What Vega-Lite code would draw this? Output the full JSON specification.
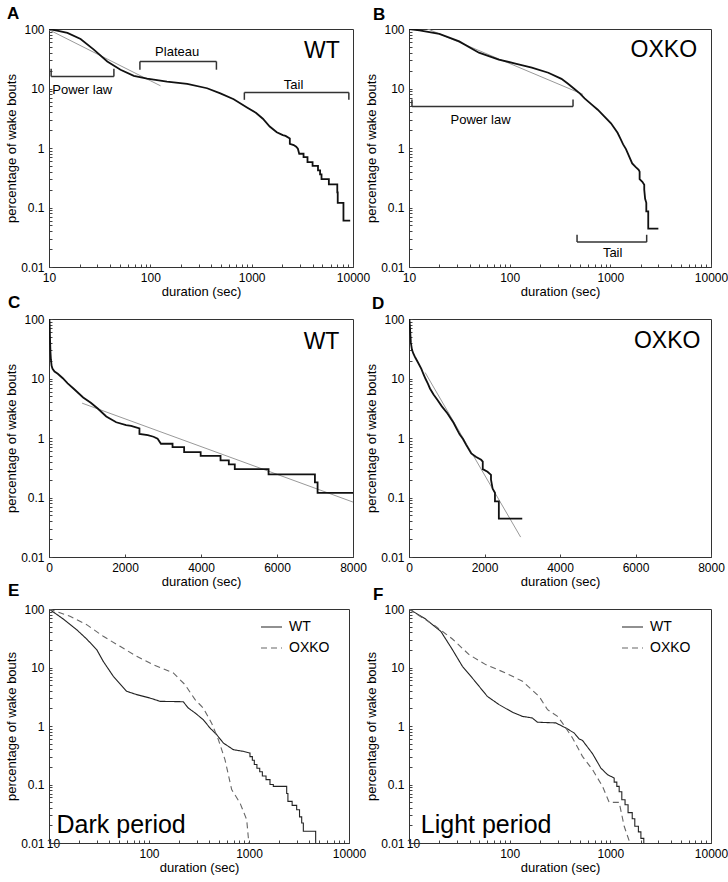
{
  "$schema": "https://vega.github.io/schema/vega-lite/v6.json",
  "background": "white",
  "padding": {"left": 5, "top": 4, "right": 1, "bottom": 5},
  "config": {
    "view": {"stroke": "#333", "strokeWidth": 1},
    "axis": {"labelFont": "Liberation Sans", "labelFontSize": 12, "labelColor": "#000", "titleFont": "Liberation Sans", "titleFontSize": 13, "titleFontWeight": "normal", "titleColor": "#000", "domainColor": "#333", "tickColor": "#444", "grid": false, "tickSize": -3, "labelPadding": 8, "titlePadding": 2, "labelFlush": false, "labelOverlap": false},
    "title": {"font": "Liberation Sans", "fontSize": 17, "fontWeight": "bold", "anchor": "start", "frame": "group", "baseline": "alphabetic", "color": "#000", "offset": 0},
    "text": {"font": "Liberation Sans", "color": "#000"},
    "legend": {"labelFont": "Liberation Sans", "labelFontSize": 14, "labelColor": "#000"}
  },
  "datasets": {
    "wt": [{"x":10,"y":100},{"x":12,"y":94},{"x":15.2,"y":86},{"x":20.5,"y":68},{"x":27.7,"y":45},{"x":37.6,"y":28.5},{"x":50.8,"y":20.7},{"x":68.7,"y":16.3},{"x":93,"y":14.6},{"x":146,"y":13.1},{"x":231,"y":12},{"x":363,"y":10.1},{"x":491,"y":8.3},{"x":665,"y":6.6},{"x":899,"y":4.8},{"x":1100,"y":3.9},{"x":1290,"y":3.1},{"x":1507,"y":2.3},{"x":1769,"y":1.84},{"x":2030,"y":1.65},{"x":2160,"y":1.6},{"x":2380,"y":1.45},{"x":2380,"y":1.17},{"x":2600,"y":1.12},{"x":2750,"y":1.05},{"x":2858,"y":0.97},{"x":2946,"y":0.8},{"x":3251,"y":0.8},{"x":3251,"y":0.7},{"x":3556,"y":0.7},{"x":3556,"y":0.58},{"x":3991,"y":0.58},{"x":3991,"y":0.5},{"x":4514,"y":0.5},{"x":4514,"y":0.42},{"x":4732,"y":0.42},{"x":4732,"y":0.36},{"x":4889,"y":0.36},{"x":4889,"y":0.3},{"x":5778,"y":0.3},{"x":5778,"y":0.244},{"x":6998,"y":0.244},{"x":6998,"y":0.18},{"x":7068,"y":0.18},{"x":7068,"y":0.12},{"x":8050,"y":0.12},{"x":8050,"y":0.06},{"x":9380,"y":0.06}],
    "oxko": [{"x":10,"y":100},{"x":12.7,"y":95},{"x":20,"y":82.5},{"x":31.5,"y":62},{"x":49.5,"y":40},{"x":78,"y":30.7},{"x":114,"y":26.3},{"x":166,"y":22.5},{"x":242,"y":18.4},{"x":327,"y":14.5},{"x":380,"y":12},{"x":440,"y":9.8},{"x":500,"y":8.2},{"x":555,"y":6.8},{"x":650,"y":5.4},{"x":750,"y":4.4},{"x":870,"y":3.4},{"x":1015,"y":2.6},{"x":1180,"y":1.8},{"x":1256,"y":1.45},{"x":1340,"y":1.15},{"x":1430,"y":0.96},{"x":1518,"y":0.76},{"x":1649,"y":0.55},{"x":1780,"y":0.48},{"x":1911,"y":0.43},{"x":1954,"y":0.4},{"x":1954,"y":0.3},{"x":2080,"y":0.27},{"x":2172,"y":0.24},{"x":2172,"y":0.2},{"x":2216,"y":0.14},{"x":2277,"y":0.12},{"x":2277,"y":0.086},{"x":2380,"y":0.086},{"x":2380,"y":0.044},{"x":3000,"y":0.044}],
    "fitA": [{"x":10,"y":97},{"x":126,"y":11.1}],
    "fitB": [{"x":10,"y":136},{"x":535,"y":7.96}],
    "fitC": [{"x":871,"y":3.85},{"x":8000,"y":0.0838}],
    "fitD": [{"x":427,"y":12.6},{"x":2957,"y":0.0216}],
    "brA": [{"x":10.5,"x2":43.7,"y":15.9,"y2":15.9},{"x":10.5,"x2":10.5,"y":15.9,"y2":21.4},{"x":43.7,"x2":43.7,"y":15.9,"y2":21.4},{"x":78.9,"x2":449,"y":28.5,"y2":28.5},{"x":78.9,"x2":78.9,"y":28.5,"y2":20.7},{"x":449,"x2":449,"y":28.5,"y2":20.7},{"x":847,"x2":9100,"y":8.57,"y2":8.57},{"x":847,"x2":847,"y":8.57,"y2":6.45},{"x":9100,"x2":9100,"y":8.57,"y2":6.45}],
    "brB": [{"x":10.7,"x2":426,"y":4.96,"y2":4.96},{"x":10.7,"x2":10.7,"y":4.96,"y2":6.56},{"x":426,"x2":426,"y":4.96,"y2":6.56},{"x":467,"x2":2296,"y":0.0262,"y2":0.0262},{"x":467,"x2":467,"y":0.0262,"y2":0.0348},{"x":2296,"x2":2296,"y":0.0262,"y2":0.0348}],
    "txtA": [{"x":21.3,"y":9.5,"label":"Power law"},{"x":184,"y":40.4,"label":"Plateau"},{"x":2594,"y":11.5,"label":"Tail"}],
    "txtB": [{"x":51.4,"y":2.96,"label":"Power law"},{"x":1054,"y":0.0174,"label":"Tail"}],
    "E": [{"genotype":"WT","x":10,"y":100},{"genotype":"WT","x":13.9,"y":67.4},{"genotype":"WT","x":18.9,"y":44.3},{"genotype":"WT","x":23.8,"y":30.7},{"genotype":"WT","x":30,"y":20.2},{"genotype":"WT","x":34.9,"y":12.7},{"genotype":"WT","x":44,"y":7.06},{"genotype":"WT","x":59.8,"y":3.92},{"genotype":"WT","x":75.3,"y":3.44},{"genotype":"WT","x":102,"y":3.01},{"genotype":"WT","x":129,"y":2.64},{"genotype":"WT","x":220,"y":2.6},{"genotype":"WT","x":247,"y":2.03},{"genotype":"WT","x":289,"y":1.67},{"genotype":"WT","x":349,"y":1.28},{"genotype":"WT","x":407,"y":0.925},{"genotype":"WT","x":475,"y":0.711},{"genotype":"WT","x":554,"y":0.512},{"genotype":"WT","x":697,"y":0.394},{"genotype":"WT","x":878,"y":0.369},{"genotype":"WT","x":1023,"y":0.345},{"genotype":"WT","x":1023,"y":0.3},{"genotype":"WT","x":1080,"y":0.3},{"genotype":"WT","x":1080,"y":0.26},{"genotype":"WT","x":1130,"y":0.26},{"genotype":"WT","x":1130,"y":0.22},{"genotype":"WT","x":1200,"y":0.22},{"genotype":"WT","x":1200,"y":0.19},{"genotype":"WT","x":1280,"y":0.19},{"genotype":"WT","x":1280,"y":0.165},{"genotype":"WT","x":1360,"y":0.165},{"genotype":"WT","x":1360,"y":0.14},{"genotype":"WT","x":1480,"y":0.14},{"genotype":"WT","x":1480,"y":0.121},{"genotype":"WT","x":1622,"y":0.121},{"genotype":"WT","x":1622,"y":0.1},{"genotype":"WT","x":1750,"y":0.1},{"genotype":"WT","x":1750,"y":0.093},{"genotype":"WT","x":2382,"y":0.093},{"genotype":"WT","x":2382,"y":0.07},{"genotype":"WT","x":2450,"y":0.07},{"genotype":"WT","x":2450,"y":0.0515},{"genotype":"WT","x":2700,"y":0.0515},{"genotype":"WT","x":2700,"y":0.044},{"genotype":"WT","x":2997,"y":0.044},{"genotype":"WT","x":2997,"y":0.037},{"genotype":"WT","x":3200,"y":0.037},{"genotype":"WT","x":3200,"y":0.028},{"genotype":"WT","x":3365,"y":0.028},{"genotype":"WT","x":3365,"y":0.022},{"genotype":"WT","x":3494,"y":0.022},{"genotype":"WT","x":3494,"y":0.0159},{"genotype":"WT","x":4642,"y":0.0159},{"genotype":"WT","x":4642,"y":0.008},
      {"genotype":"OXKO","x":10,"y":100},{"genotype":"OXKO","x":16.2,"y":75},{"genotype":"OXKO","x":23.8,"y":54},{"genotype":"OXKO","x":34.9,"y":34.1},{"genotype":"OXKO","x":51.3,"y":23},{"genotype":"OXKO","x":75.3,"y":15.5},{"genotype":"OXKO","x":110,"y":11.2},{"genotype":"OXKO","x":175,"y":8.06},{"genotype":"OXKO","x":229,"y":5.1},{"genotype":"OXKO","x":289,"y":2.82},{"genotype":"OXKO","x":349,"y":2.03},{"genotype":"OXKO","x":423,"y":1.12},{"genotype":"OXKO","x":494,"y":0.584},{"genotype":"OXKO","x":575,"y":0.266},{"genotype":"OXKO","x":671,"y":0.0817},{"genotype":"OXKO","x":813,"y":0.0483},{"genotype":"OXKO","x":948,"y":0.0251},{"genotype":"OXKO","x":1008,"y":0.008}],
    "F": [{"genotype":"WT","x":10,"y":100},{"genotype":"WT","x":14.6,"y":67.4},{"genotype":"WT","x":20.7,"y":41.5},{"genotype":"WT","x":27,"y":20.2},{"genotype":"WT","x":33.9,"y":10.5},{"genotype":"WT","x":42.6,"y":6.6},{"genotype":"WT","x":60.1,"y":3.2},{"genotype":"WT","x":78.5,"y":2.32},{"genotype":"WT","x":107,"y":1.71},{"genotype":"WT","x":134,"y":1.46},{"genotype":"WT","x":168,"y":1.37},{"genotype":"WT","x":189,"y":1.16},{"genotype":"WT","x":287,"y":1.13},{"genotype":"WT","x":361,"y":0.925},{"genotype":"WT","x":437,"y":0.76},{"genotype":"WT","x":491,"y":0.6},{"genotype":"WT","x":528,"y":0.569},{"genotype":"WT","x":665,"y":0.337},{"genotype":"WT","x":805,"y":0.191},{"genotype":"WT","x":938,"y":0.147},{"genotype":"WT","x":1092,"y":0.129},{"genotype":"WT","x":1092,"y":0.11},{"genotype":"WT","x":1160,"y":0.11},{"genotype":"WT","x":1160,"y":0.093},{"genotype":"WT","x":1224,"y":0.093},{"genotype":"WT","x":1224,"y":0.075},{"genotype":"WT","x":1300,"y":0.075},{"genotype":"WT","x":1300,"y":0.055},{"genotype":"WT","x":1400,"y":0.055},{"genotype":"WT","x":1400,"y":0.045},{"genotype":"WT","x":1500,"y":0.045},{"genotype":"WT","x":1500,"y":0.033},{"genotype":"WT","x":1650,"y":0.033},{"genotype":"WT","x":1650,"y":0.026},{"genotype":"WT","x":1750,"y":0.026},{"genotype":"WT","x":1750,"y":0.0193},{"genotype":"WT","x":1900,"y":0.0193},{"genotype":"WT","x":1900,"y":0.0155},{"genotype":"WT","x":2012,"y":0.0155},{"genotype":"WT","x":2012,"y":0.012},{"genotype":"WT","x":2150,"y":0.012},{"genotype":"WT","x":2150,"y":0.008},
      {"genotype":"OXKO","x":10,"y":100},{"genotype":"OXKO","x":18.4,"y":50.6},{"genotype":"OXKO","x":27,"y":30.7},{"genotype":"OXKO","x":39.5,"y":16.6},{"genotype":"OXKO","x":57.8,"y":11.2},{"genotype":"OXKO","x":91.4,"y":8.06},{"genotype":"OXKO","x":134,"y":5.81},{"genotype":"OXKO","x":196,"y":3.21},{"genotype":"OXKO","x":238,"y":1.9},{"genotype":"OXKO","x":299,"y":1.46},{"genotype":"OXKO","x":335,"y":1.12},{"genotype":"OXKO","x":421,"y":0.624},{"genotype":"OXKO","x":528,"y":0.303},{"genotype":"OXKO","x":665,"y":0.18},{"genotype":"OXKO","x":836,"y":0.093},{"genotype":"OXKO","x":974,"y":0.0495},{"genotype":"OXKO","x":1224,"y":0.0495},{"genotype":"OXKO","x":1373,"y":0.0193},{"genotype":"OXKO","x":1637,"y":0.008}]
  },
  "concat": [
        {
          "title": {"text": "A", "dx": -42, "dy": 4.4},
          "width": 304, "height": 238,
          "encoding": {
            "x": {"field": "x", "type": "quantitative", "scale": {"type": "log", "domain": [10, 10000]}, "axis": {"title": "duration (sec)", "format": "d", "values": [10,20,30,40,50,60,70,80,90,100,200,300,400,500,600,700,800,900,1000,2000,3000,4000,5000,6000,7000,8000,9000,10000], "labelExpr": "indexof([10,100,1000,10000], datum.value) >= 0 ? datum.label : ''"}},
            "y": {"field": "y", "type": "quantitative", "scale": {"type": "log", "domain": [0.01, 100]}, "axis": {"title": "percentage of wake bouts", "format": "~g", "values": [0.01,0.02,0.03,0.04,0.05,0.06,0.07,0.08,0.09,0.1,0.2,0.3,0.4,0.5,0.6,0.7,0.8,0.9,1,2,3,4,5,6,7,8,9,10,20,30,40,50,60,70,80,90,100], "labelExpr": "indexof([0.01,0.1,1,10,100], datum.value) >= 0 ? datum.label : ''"}}
          },
          "layer": [
            {"data": {"name": "fitA"}, "mark": {"type": "line", "color": "#999", "strokeWidth": 1, "clip": true}},
            {"data": {"name": "wt"}, "mark": {"type": "line", "color": "#111", "strokeWidth": 1.8, "clip": true}, "encoding": {"order": [{"field": "x", "sort": "ascending"}, {"field": "y", "sort": "descending"}]}},
            {"data": {"name": "brA"}, "mark": {"type": "rule", "color": "#333", "strokeWidth": 1.5}, "encoding": {"x2": {"field": "x2"}, "y2": {"field": "y2"}}},
            {"data": {"name": "txtA"}, "mark": {"type": "text", "fontSize": 13, "baseline": "middle", "align": "center"}, "encoding": {"text": {"field": "label"}}},
            {"data": {"values": [{"x": 4930, "y": 42, "label": "WT"}]}, "mark": {"type": "text", "fontSize": 23, "baseline": "middle", "align": "center"}, "encoding": {"text": {"field": "label"}}}
          ]
        },
        {
          "title": {"text": "B", "dx": -36, "dy": 5.4},
          "width": 302, "height": 238,
          "encoding": {
            "x": {"field": "x", "type": "quantitative", "scale": {"type": "log", "domain": [10, 10000]}, "axis": {"title": "duration (sec)", "format": "d", "values": [10,20,30,40,50,60,70,80,90,100,200,300,400,500,600,700,800,900,1000,2000,3000,4000,5000,6000,7000,8000,9000,10000], "labelExpr": "indexof([10,100,1000,10000], datum.value) >= 0 ? datum.label : ''"}},
            "y": {"field": "y", "type": "quantitative", "scale": {"type": "log", "domain": [0.01, 100]}, "axis": {"title": "percentage of wake bouts", "format": "~g", "values": [0.01,0.02,0.03,0.04,0.05,0.06,0.07,0.08,0.09,0.1,0.2,0.3,0.4,0.5,0.6,0.7,0.8,0.9,1,2,3,4,5,6,7,8,9,10,20,30,40,50,60,70,80,90,100], "labelExpr": "indexof([0.01,0.1,1,10,100], datum.value) >= 0 ? datum.label : ''"}}
          },
          "layer": [
            {"data": {"name": "fitB"}, "mark": {"type": "line", "color": "#999", "strokeWidth": 1, "clip": true}},
            {"data": {"name": "oxko"}, "mark": {"type": "line", "color": "#111", "strokeWidth": 1.8, "clip": true}, "encoding": {"order": [{"field": "x", "sort": "ascending"}, {"field": "y", "sort": "descending"}]}},
            {"data": {"name": "brB"}, "mark": {"type": "rule", "color": "#333", "strokeWidth": 1.5}, "encoding": {"x2": {"field": "x2"}, "y2": {"field": "y2"}}},
            {"data": {"name": "txtB"}, "mark": {"type": "text", "fontSize": 13, "baseline": "middle", "align": "center"}, "encoding": {"text": {"field": "label"}}},
            {"data": {"values": [{"x": 3400, "y": 45, "label": "OXKO"}]}, "mark": {"type": "text", "fontSize": 23, "baseline": "middle", "align": "center"}, "encoding": {"text": {"field": "label"}}}
          ]
        },
        {
          "title": {"text": "C", "dx": -41, "dy": 3.4},
          "width": 304, "height": 238,
          "encoding": {
            "x": {"field": "x", "type": "quantitative", "scale": {"domain": [0, 8000]}, "axis": {"title": "duration (sec)", "values": [0, 2000, 4000, 6000, 8000], "format": "d"}},
            "y": {"field": "y", "type": "quantitative", "scale": {"type": "log", "domain": [0.01, 100]}, "axis": {"title": "percentage of wake bouts", "format": "~g", "values": [0.01,0.02,0.03,0.04,0.05,0.06,0.07,0.08,0.09,0.1,0.2,0.3,0.4,0.5,0.6,0.7,0.8,0.9,1,2,3,4,5,6,7,8,9,10,20,30,40,50,60,70,80,90,100], "labelExpr": "indexof([0.01,0.1,1,10,100], datum.value) >= 0 ? datum.label : ''"}}
          },
          "layer": [
            {"data": {"name": "fitC"}, "mark": {"type": "line", "color": "#999", "strokeWidth": 1, "clip": true}},
            {"data": {"name": "wt"}, "mark": {"type": "line", "color": "#111", "strokeWidth": 1.8, "clip": true}, "encoding": {"order": [{"field": "x", "sort": "ascending"}, {"field": "y", "sort": "descending"}]}},
            {"data": {"values": [{"x": 7172, "y": 40.6, "label": "WT"}]}, "mark": {"type": "text", "fontSize": 23, "baseline": "middle", "align": "center"}, "encoding": {"text": {"field": "label"}}}
          ]
        },
        {
          "title": {"text": "D", "dx": -37, "dy": 4.4},
          "width": 302, "height": 238,
          "encoding": {
            "x": {"field": "x", "type": "quantitative", "scale": {"domain": [0, 8000]}, "axis": {"title": "duration (sec)", "values": [0, 2000, 4000, 6000, 8000], "format": "d"}},
            "y": {"field": "y", "type": "quantitative", "scale": {"type": "log", "domain": [0.01, 100]}, "axis": {"title": "percentage of wake bouts", "format": "~g", "values": [0.01,0.02,0.03,0.04,0.05,0.06,0.07,0.08,0.09,0.1,0.2,0.3,0.4,0.5,0.6,0.7,0.8,0.9,1,2,3,4,5,6,7,8,9,10,20,30,40,50,60,70,80,90,100], "labelExpr": "indexof([0.01,0.1,1,10,100], datum.value) >= 0 ? datum.label : ''"}}
          },
          "layer": [
            {"data": {"name": "fitD"}, "mark": {"type": "line", "color": "#999", "strokeWidth": 1, "clip": true}},
            {"data": {"name": "oxko"}, "mark": {"type": "line", "color": "#111", "strokeWidth": 1.8, "clip": true}, "encoding": {"order": [{"field": "x", "sort": "ascending"}, {"field": "y", "sort": "descending"}]}},
            {"data": {"values": [{"x": 6840, "y": 42.5, "label": "OXKO"}]}, "mark": {"type": "text", "fontSize": 23, "baseline": "middle", "align": "center"}, "encoding": {"text": {"field": "label"}}}
          ]
        },
        {
          "title": {"text": "E", "dx": -41, "dy": 1.4},
          "width": 300, "height": 234,
          "encoding": {
            "x": {"field": "x", "type": "quantitative", "scale": {"type": "log", "domain": [10, 10000]}, "axis": {"title": "duration (sec)", "format": "d", "values": [10,20,30,40,50,60,70,80,90,100,200,300,400,500,600,700,800,900,1000,2000,3000,4000,5000,6000,7000,8000,9000,10000], "labelExpr": "indexof([10,100,1000,10000], datum.value) >= 0 ? datum.label : ''", "labelOffset": {"condition": {"test": "datum.value == 10", "value": 4}, "value": 0}, "labelPadding": {"condition": {"test": "datum.value == 10", "value": -2}, "value": 8}}},
            "y": {"field": "y", "type": "quantitative", "scale": {"type": "log", "domain": [0.01, 100]}, "axis": {"title": "percentage of wake bouts", "format": "~g", "values": [0.01,0.02,0.03,0.04,0.05,0.06,0.07,0.08,0.09,0.1,0.2,0.3,0.4,0.5,0.6,0.7,0.8,0.9,1,2,3,4,5,6,7,8,9,10,20,30,40,50,60,70,80,90,100], "labelExpr": "indexof([0.01,0.1,1,10,100], datum.value) >= 0 ? datum.label : ''"}}
          },
          "layer": [
            {"data": {"name": "E"}, "mark": {"type": "line", "strokeWidth": 1.1, "clip": true},
             "encoding": {
               "color": {"field": "genotype", "type": "nominal", "scale": {"domain": ["WT", "OXKO"], "range": ["#222", "#666"]}, "legend": {"title": null, "orient": "none", "legendX": 211, "legendY": 6.5, "symbolType": "stroke", "symbolSize": 441, "symbolStrokeWidth": 1.2, "labelOffset": 6, "rowPadding": 2}},
               "strokeDash": {"field": "genotype", "type": "nominal", "scale": {"domain": ["WT", "OXKO"], "range": [[1, 0], [6, 4]]}, "legend": {"title": null, "orient": "none", "legendX": 211, "legendY": 6.5, "symbolType": "stroke", "symbolSize": 441, "symbolStrokeWidth": 1.2, "labelOffset": 6, "rowPadding": 2}},
               "order": [{"field": "x", "sort": "ascending"}, {"field": "y", "sort": "descending"}]
             }},
            {"data": {"values": [{"x": 11.9, "y": 0.0148, "label": "Dark period"}]}, "mark": {"type": "text", "fontSize": 25, "baseline": "alphabetic", "align": "left"}, "encoding": {"text": {"field": "label"}}}
          ]
        },
        {
          "title": {"text": "F", "dx": -36, "dy": 5.1},
          "width": 302, "height": 234,
          "encoding": {
            "x": {"field": "x", "type": "quantitative", "scale": {"type": "log", "domain": [10, 10000]}, "axis": {"title": "duration (sec)", "format": "d", "values": [10,20,30,40,50,60,70,80,90,100,200,300,400,500,600,700,800,900,1000,2000,3000,4000,5000,6000,7000,8000,9000,10000], "labelExpr": "indexof([10,100,1000,10000], datum.value) >= 0 ? datum.label : ''", "labelOffset": {"condition": {"test": "datum.value == 10", "value": 4}, "value": 0}, "labelPadding": {"condition": {"test": "datum.value == 10", "value": -2}, "value": 8}}},
            "y": {"field": "y", "type": "quantitative", "scale": {"type": "log", "domain": [0.01, 100]}, "axis": {"title": "percentage of wake bouts", "format": "~g", "values": [0.01,0.02,0.03,0.04,0.05,0.06,0.07,0.08,0.09,0.1,0.2,0.3,0.4,0.5,0.6,0.7,0.8,0.9,1,2,3,4,5,6,7,8,9,10,20,30,40,50,60,70,80,90,100], "labelExpr": "indexof([0.01,0.1,1,10,100], datum.value) >= 0 ? datum.label : ''"}}
          },
          "layer": [
            {"data": {"name": "F"}, "mark": {"type": "line", "strokeWidth": 1.1, "clip": true},
             "encoding": {
               "color": {"field": "genotype", "type": "nominal", "scale": {"domain": ["WT", "OXKO"], "range": ["#222", "#666"]}, "legend": {"title": null, "orient": "none", "legendX": 212, "legendY": 6.5, "symbolType": "stroke", "symbolSize": 441, "symbolStrokeWidth": 1.2, "labelOffset": 6, "rowPadding": 2}},
               "strokeDash": {"field": "genotype", "type": "nominal", "scale": {"domain": ["WT", "OXKO"], "range": [[1, 0], [6, 4]]}, "legend": {"title": null, "orient": "none", "legendX": 212, "legendY": 6.5, "symbolType": "stroke", "symbolSize": 441, "symbolStrokeWidth": 1.2, "labelOffset": 6, "rowPadding": 2}},
               "order": [{"field": "x", "sort": "ascending"}, {"field": "y", "sort": "descending"}]
             }},
            {"data": {"values": [{"x": 13.1, "y": 0.0148, "label": "Light period"}]}, "mark": {"type": "text", "fontSize": 25, "baseline": "alphabetic", "align": "left"}, "encoding": {"text": {"field": "label"}}}
          ]
        }
  ],
  "columns": 2,
  "spacing": {"row": 52, "column": 56},
  "bounds": "flush",
  "resolve": {"scale": {"color": "independent", "strokeDash": "independent"}, "legend": {"color": "independent", "strokeDash": "independent"}}
}
